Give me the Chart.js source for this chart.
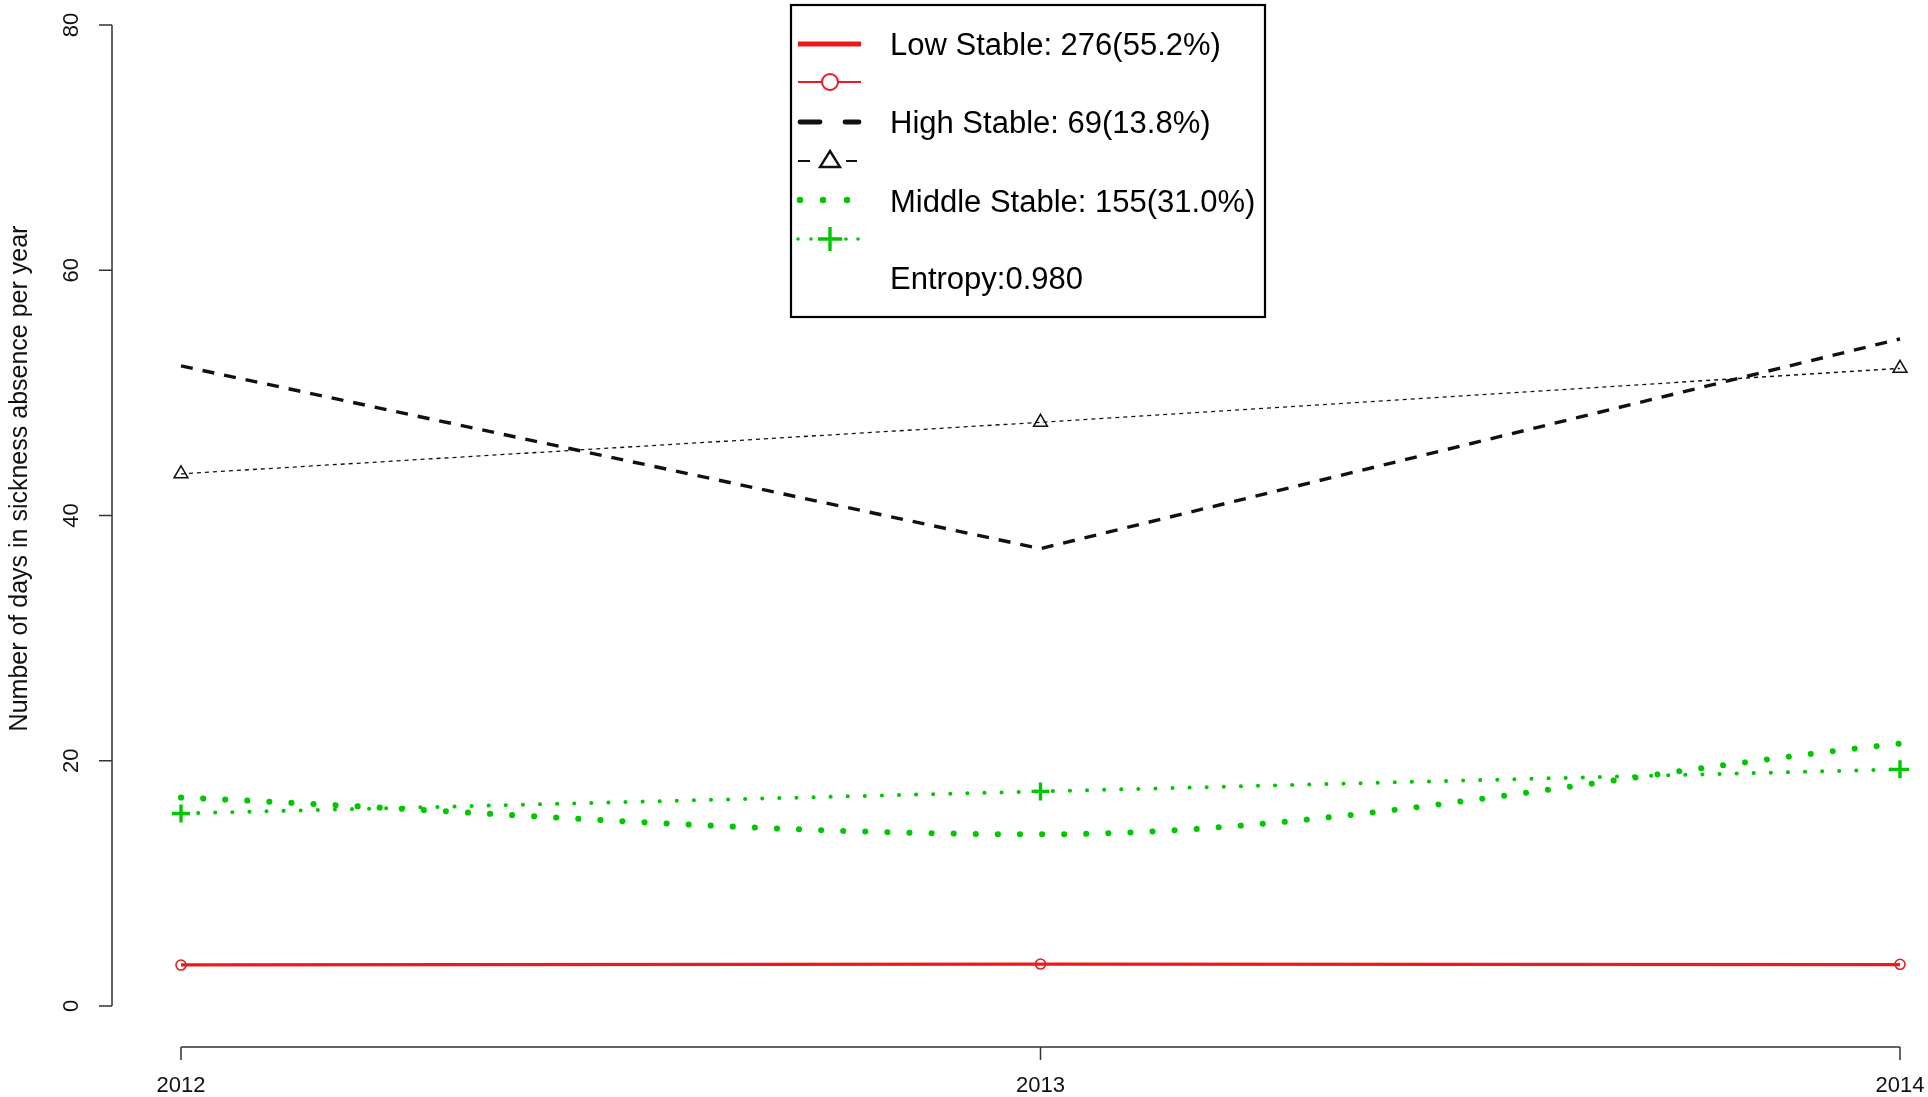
<!DOCTYPE html>
<html>
<head>
<meta charset="utf-8">
<title>Sickness absence trajectories</title>
<script src="https://cdn.jsdelivr.net/npm/chart.js@4/dist/chart.umd.min.js"></script>
<style>
  html, body { margin: 0; padding: 0; background: #ffffff; }
  canvas { display: block; }
</style>
</head>
<body>
<canvas id="chart" width="1928" height="1097"></canvas>
<script>
// Survey years on the x axis
const years = [2012, 2013, 2014];

// Estimated (model) trajectories per group
const lowStableEst = [3.35, 3.42, 3.38];
const highStableEst = [52.2, 37.3, 54.4];
const middleStableEst = [17.0, 14.0, 21.4];

// Observed group means per year
const lowStableObs = [3.34, 3.42, 3.40];
const highStableObs = [43.4, 47.6, 52.0];
const middleStableObs = [15.7, 17.5, 19.3];

// Axis ticks
const yTicks = [0, 20, 40, 60, 80];
const xTicks = [2012, 2013, 2014];
const yTitle = 'Number of days in sickness absence per year';

// Legend entries
const legendTexts = [
  'Low Stable: 276(55.2%)',
  '',
  'High Stable: 69(13.8%)',
  '',
  'Middle Stable: 155(31.0%)',
  '',
  'Entropy:0.980'
];

const RED = '#ec1a1e';
const BLACK = '#111111';
const GREEN = '#00c800';
const FONT = '"Liberation Sans", Arial, sans-serif';

const toXY = (vals) => years.map((yr, i) => ({ x: yr, y: vals[i] }));

// R-style detached axes plus the boxed legend
const decorations = {
  id: 'decorations',
  afterDraw(chart) {
    const ctx = chart.ctx;
    const xs = chart.scales.x;
    const ys = chart.scales.y;
    const area = chart.chartArea;
    ctx.save();

    // y axis
    const axisX = 112;
    ctx.strokeStyle = '#333333';
    ctx.lineWidth = 1.5;
    ctx.beginPath();
    ctx.moveTo(axisX, ys.getPixelForValue(yTicks[yTicks.length - 1]));
    ctx.lineTo(axisX, ys.getPixelForValue(yTicks[0]));
    yTicks.forEach(t => {
      const py = ys.getPixelForValue(t);
      ctx.moveTo(axisX, py);
      ctx.lineTo(axisX - 13, py);
    });
    ctx.stroke();

    ctx.fillStyle = '#111111';
    ctx.font = '22px ' + FONT;
    ctx.textAlign = 'center';
    ctx.textBaseline = 'middle';
    yTicks.forEach(t => {
      const py = ys.getPixelForValue(t);
      ctx.save();
      ctx.translate(72, py);
      ctx.rotate(-Math.PI / 2);
      ctx.fillText(String(t), 0, 0);
      ctx.restore();
    });

    // y axis title
    ctx.save();
    ctx.translate(20, (area.top + area.bottom) / 2 - 37);
    ctx.rotate(-Math.PI / 2);
    ctx.font = '25px ' + FONT;
    ctx.fillText(yTitle, 0, 0);
    ctx.restore();

    // x axis
    const axisY = 1047;
    ctx.beginPath();
    ctx.moveTo(xs.getPixelForValue(xTicks[0]), axisY);
    ctx.lineTo(xs.getPixelForValue(xTicks[xTicks.length - 1]), axisY);
    xTicks.forEach(t => {
      const px = xs.getPixelForValue(t);
      ctx.moveTo(px, axisY);
      ctx.lineTo(px, axisY + 13);
    });
    ctx.stroke();
    ctx.font = '22px ' + FONT;
    xTicks.forEach(t => {
      ctx.fillText(String(t), xs.getPixelForValue(t), 1086);
    });

    // legend box
    const bx = 791, by = 5, bw = 474, bh = 312;
    ctx.fillStyle = '#ffffff';
    ctx.fillRect(bx, by, bw, bh);
    ctx.strokeStyle = '#000000';
    ctx.lineWidth = 2.2;
    ctx.strokeRect(bx, by, bw, bh);

    const rowY = [44, 82, 122, 161, 200, 239, 278];
    const sx0 = 798, sx1 = 861, sc = 830;
    ctx.lineCap = 'butt';

    // row 1: thick red solid
    ctx.strokeStyle = RED;
    ctx.lineWidth = 4.8;
    ctx.setLineDash([]);
    ctx.beginPath(); ctx.moveTo(sx0, rowY[0]); ctx.lineTo(sx1, rowY[0]); ctx.stroke();

    // row 2: thin red with open circle
    ctx.lineWidth = 2;
    ctx.beginPath(); ctx.moveTo(sx0, rowY[1]); ctx.lineTo(sc - 8, rowY[1]);
    ctx.moveTo(sc + 8, rowY[1]); ctx.lineTo(sx1, rowY[1]); ctx.stroke();
    ctx.beginPath(); ctx.arc(sc, rowY[1], 8, 0, Math.PI * 2); ctx.stroke();

    // row 3: thick black dashes
    ctx.strokeStyle = BLACK;
    ctx.lineWidth = 4.8;
    ctx.lineCap = 'round';
    ctx.beginPath(); ctx.moveTo(sx0 + 2, rowY[2]); ctx.lineTo(820, rowY[2]);
    ctx.moveTo(845, rowY[2]); ctx.lineTo(sx1 - 2, rowY[2]); ctx.stroke();

    // row 4: thin black dashes with open triangle
    ctx.lineWidth = 2;
    ctx.lineCap = 'butt';
    ctx.beginPath(); ctx.moveTo(sx0, rowY[3]); ctx.lineTo(810, rowY[3]);
    ctx.moveTo(846, rowY[3]); ctx.lineTo(857, rowY[3]); ctx.stroke();
    ctx.lineWidth = 2.4;
    ctx.beginPath();
    ctx.moveTo(sc, rowY[3] - 10);
    ctx.lineTo(sc + 10, rowY[3] + 6);
    ctx.lineTo(sc - 10, rowY[3] + 6);
    ctx.closePath(); ctx.stroke();

    // row 5: big green dots
    ctx.fillStyle = GREEN;
    [800, 823, 847].forEach(px => {
      ctx.beginPath(); ctx.arc(px, rowY[4], 3.2, 0, Math.PI * 2); ctx.fill();
    });

    // row 6: small green dots with plus
    [798, 811, 846, 858].forEach(px => {
      ctx.beginPath(); ctx.arc(px, rowY[5], 1.8, 0, Math.PI * 2); ctx.fill();
    });
    ctx.strokeStyle = GREEN;
    ctx.lineWidth = 3.4;
    ctx.beginPath();
    ctx.moveTo(sc - 12, rowY[5]); ctx.lineTo(sc + 12, rowY[5]);
    ctx.moveTo(sc, rowY[5] - 12); ctx.lineTo(sc, rowY[5] + 12);
    ctx.stroke();

    // legend texts (alphabetic baselines)
    const textBase = [55, 0, 133, 0, 212, 0, 289];
    ctx.fillStyle = '#000000';
    ctx.font = '31px ' + FONT;
    ctx.textAlign = 'left';
    ctx.textBaseline = 'alphabetic';
    legendTexts.forEach((txt, i) => {
      if (txt) ctx.fillText(txt, 890, textBase[i]);
    });

    ctx.restore();
  }
};

new Chart(document.getElementById('chart'), {
  type: 'line',
  data: {
    datasets: [
      {
        label: 'Low Stable (estimated)',
        data: toXY(lowStableEst),
        borderColor: RED,
        borderWidth: 3.2,
        pointRadius: 0,
        tension: 0
      },
      {
        label: 'Low Stable (observed)',
        data: toXY(lowStableObs),
        borderColor: RED,
        borderWidth: 1.5,
        pointStyle: 'circle',
        pointRadius: 5,
        pointBorderWidth: 1.6,
        pointBorderColor: RED,
        pointBackgroundColor: 'rgba(0,0,0,0)',
        tension: 0
      },
      {
        label: 'High Stable (estimated)',
        data: toXY(highStableEst),
        borderColor: BLACK,
        borderWidth: 3.4,
        borderDash: [12, 10],
        pointRadius: 0,
        tension: 0
      },
      {
        label: 'High Stable (observed)',
        data: toXY(highStableObs),
        borderColor: BLACK,
        borderWidth: 1.3,
        borderDash: [4, 4],
        pointStyle: 'triangle',
        pointRadius: 8,
        pointBorderWidth: 1.5,
        pointBorderColor: BLACK,
        pointBackgroundColor: 'rgba(0,0,0,0)',
        tension: 0
      },
      {
        label: 'Middle Stable (estimated)',
        data: toXY(middleStableEst),
        borderColor: GREEN,
        borderWidth: 6,
        borderDash: [0.1, 22],
        borderCapStyle: 'round',
        pointRadius: 0,
        cubicInterpolationMode: 'monotone'
      },
      {
        label: 'Middle Stable (observed)',
        data: toXY(middleStableObs),
        borderColor: GREEN,
        borderWidth: 4,
        borderDash: [0.1, 17],
        borderCapStyle: 'round',
        pointStyle: 'cross',
        pointRadius: 9,
        pointBorderWidth: 3.4,
        pointBorderColor: GREEN,
        tension: 0
      }
    ]
  },
  options: {
    responsive: false,
    animation: false,
    devicePixelRatio: 1,
    clip: false,
    layout: { padding: { left: 181, right: 28, top: 25, bottom: 91 } },
    scales: {
      x: { type: 'linear', min: 2012, max: 2014, display: false },
      y: { type: 'linear', min: 0, max: 80, display: false }
    },
    plugins: {
      legend: { display: false },
      tooltip: { enabled: false }
    },
    elements: { line: { fill: false } }
  },
  plugins: [decorations]
});
</script>
</body>
</html>
